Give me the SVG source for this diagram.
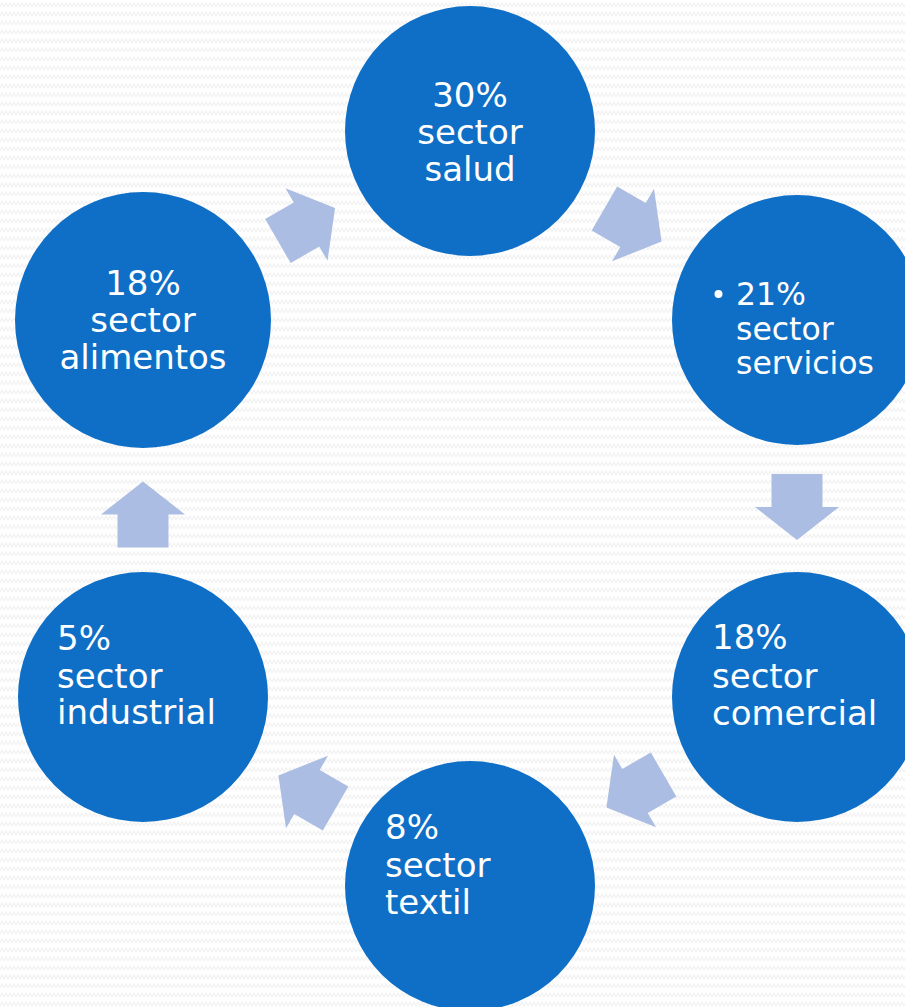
<svg xmlns="http://www.w3.org/2000/svg" width="905" height="1007" viewBox="0 0 905 1007">
<defs>
<pattern id="zig" width="8" height="9" patternUnits="userSpaceOnUse">
<polyline points="0,7 2,3 4,7 6,3 8,7" fill="none" stroke="#f2f2f2" stroke-width="1.2"/>
</pattern>
<path id="arr" d="M-33,-25.5 L0,-25.5 L0,-42 L33,0 L0,42 L0,25.5 L-33,25.5 Z"/>
</defs>
<style>
.node{fill:#0F6FC6}
.arrow{fill:#ABBDE2}
.t{font-family:"DejaVu Sans",Verdana,sans-serif;font-size:34px;fill:#ffffff}
.s{font-size:31.5px}
.c{text-anchor:middle}
</style>
<rect width="905" height="1007" fill="#ffffff"/>
<rect width="905" height="1007" fill="url(#zig)"/>
<g id="connectors" class="arrow">
<use href="#arr" transform="translate(633,225) rotate(30)"/>
<use href="#arr" transform="translate(797,507) rotate(90)"/>
<use href="#arr" transform="translate(635,791) rotate(150)"/>
<use href="#arr" transform="translate(307,792) rotate(210)"/>
<use href="#arr" transform="translate(143,514.5) rotate(270)"/>
<use href="#arr" transform="translate(306.5,224.5) rotate(330)"/>
</g>
<g id="node-salud">
<circle class="node" cx="470" cy="131" r="125"/>
<text class="t c" x="470" y="107">30%</text>
<text class="t c" x="470" y="144">sector</text>
<text class="t c" x="470" y="181">salud</text>
</g>
<g id="node-servicios">
<circle class="node" cx="797" cy="320" r="125"/>
<circle cx="718.5" cy="294" r="4" fill="#ffffff"/>
<text class="t s" x="736" y="305">21%</text>
<text class="t s" x="736" y="340">sector</text>
<text class="t s" x="736" y="374">servicios</text>
</g>
<g id="node-comercial">
<circle class="node" cx="797" cy="697" r="125"/>
<text class="t" x="712" y="649">18%</text>
<text class="t" x="712" y="688">sector</text>
<text class="t" x="712" y="725">comercial</text>
</g>
<g id="node-textil">
<circle class="node" cx="470" cy="886" r="125"/>
<text class="t" x="385" y="839">8%</text>
<text class="t" x="385" y="877">sector</text>
<text class="t" x="385" y="914">textil</text>
</g>
<g id="node-industrial">
<circle class="node" cx="143" cy="697" r="125"/>
<text class="t" x="57" y="650">5%</text>
<text class="t" x="57" y="688">sector</text>
<text class="t" x="57" y="724">industrial</text>
</g>
<g id="node-alimentos">
<circle class="node" cx="143" cy="320" r="128"/>
<text class="t c" x="143" y="295">18%</text>
<text class="t c" x="143" y="332">sector</text>
<text class="t c" x="143" y="369">alimentos</text>
</g>
</svg>
